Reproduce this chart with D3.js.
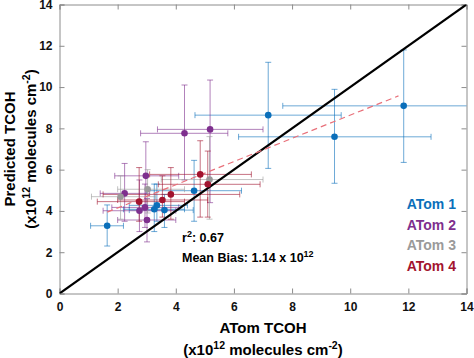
<!DOCTYPE html>
<html lang="en">
<head>
<meta charset="UTF-8">
<title>Predicted vs ATom TCOH</title>
<script src="https://d3js.org/d3.v7.min.js"></script>
<style>
    body { margin: 0; background: #ffffff; }
    svg { display: block; font-family: 'Liberation Sans', Arial, Helvetica, sans-serif; }
    .tick text { font-size: 12px; font-weight: bold; fill: #111; }
</style>
</head>
<body>
<svg id="chart" width="474" height="358"></svg>
<script>
// each row: [x, y, xLow, xHigh, yLow, yHigh]  (x10^12 molecules cm^-2)
const atom1 = [
    [1.64, 3.28, 1.07, 2.2, 2.3, 4.29],
    [3.26, 4.08, 2.2, 4.3, 3.0, 5.3],
    [3.35, 4.27, 2.4, 4.4, 3.5, 5.3],
    [3.61, 4.04, 2.4, 4.6, 3.2, 4.8],
    [4.63, 4.98, 3.0, 6.26, 3.5, 6.45],
    [7.18, 8.64, 4.66, 9.69, 6.06, 11.2],
    [9.46, 7.59, 6.16, 12.78, 5.34, 9.89],
    [11.84, 9.09, 7.68, 16, 6.35, 11.8]
];
const atom2 = [
    [2.24, 4.85, 1.4, 3.1, 3.5, 6.3],
    [2.97, 5.70, 1.9, 4.1, 4.1, 7.35],
    [2.75, 4.01, 1.5, 4.0, 3.0, 5.5],
    [2.94, 4.17, 1.8, 4.1, 3.2, 5.3],
    [3.01, 3.56, 2.0, 4.0, 2.5, 4.6],
    [4.30, 7.76, 2.79, 5.79, 5.5, 10.1],
    [5.18, 7.95, 3.37, 7.0, 4.4, 10.34]
];
const atom3 = [
    [2.10, 4.69, 1.1, 3.3, 3.6, 5.7],
    [3.03, 5.05, 2.0, 4.3, 3.9, 6.0],
    [5.16, 5.52, 3.5, 7.0, 3.6, 7.6]
];
const atom4 = [
    [2.74, 4.45, 1.3, 4.3, 3.5, 6.1],
    [3.54, 4.53, 2.0, 5.1, 3.7, 5.7],
    [3.83, 4.80, 1.5, 6.2, 3.6, 6.1],
    [4.84, 5.77, 3.1, 6.6, 3.7, 7.4],
    [5.10, 5.29, 3.4, 6.9, 3.7, 6.9]
];
const campaigns = ["ATom 1", "ATom 2", "ATom 3", "ATom 4"];
const campaignColors = ["#0b6fba", "#7e2f8e", "#9a9a9a", "#a2142f"];
const tickValues = [0, 2, 4, 6, 8, 10, 12, 14];
// least squares fit (slope, intercept) and its x extent
const fitSlope = 0.562;
const fitIntercept = 3.02;
const fitRange = [1.64, 11.66];
const rSquared = "0.67";
const meanBias = "1.14";

const svg = d3.select("#chart");
const x = d3.scaleLinear().domain([0, 14]).range([59.5, 466.5]);
const y = d3.scaleLinear().domain([0, 14]).range([293.5, 4.5]);

svg.append("defs").append("clipPath").attr("id", "plotArea")
    .append("rect")
    .attr("x", x(0)).attr("y", y(14))
    .attr("width", x(14) - x(0)).attr("height", y(0) - y(14));

// axes with inward ticks on all four sides
const axisColor = "#8c8c8c";
const axBottom = svg.append("g").attr("transform", `translate(0,${y(0)})`)
    .call(d3.axisBottom(x).tickValues(tickValues).tickSize(-5).tickPadding(9));
const axLeft = svg.append("g").attr("transform", `translate(${x(0)},0)`)
    .call(d3.axisLeft(y).tickValues(tickValues).tickSize(-5).tickPadding(7));
const axTop = svg.append("g").attr("transform", `translate(0,${y(14)})`)
    .call(d3.axisTop(x).tickValues(tickValues).tickSize(-5).tickFormat(""));
const axRight = svg.append("g").attr("transform", `translate(${x(14)},0)`)
    .call(d3.axisRight(y).tickValues(tickValues).tickSize(-5).tickFormat(""));
[axBottom, axLeft, axTop, axRight].forEach(g => {
    g.select(".domain").attr("stroke", axisColor);
    g.selectAll(".tick line").attr("stroke", axisColor);
});
axBottom.selectAll(".tick text").attr("dy", "0.71em");

const plot = svg.append("g").attr("clip-path", "url(#plotArea)");
const cap = 3;

// error bars
[atom1, atom2, atom3, atom4].forEach((rows, i) => {
    const g = plot.append("g")
        .attr("stroke", campaignColors[i])
        .attr("stroke-opacity", 0.6)
        .attr("stroke-width", 1)
        .attr("fill", "none");
    rows.forEach(d => {
        const px = x(d[0]), py = y(d[1]);
        const path = d3.path();
        path.moveTo(x(d[2]), py); path.lineTo(x(d[3]), py);
        path.moveTo(x(d[2]), py - cap); path.lineTo(x(d[2]), py + cap);
        path.moveTo(x(d[3]), py - cap); path.lineTo(x(d[3]), py + cap);
        path.moveTo(px, y(d[4])); path.lineTo(px, y(d[5]));
        path.moveTo(px - cap, y(d[4])); path.lineTo(px + cap, y(d[4]));
        path.moveTo(px - cap, y(d[5])); path.lineTo(px + cap, y(d[5]));
        g.append("path").attr("d", path.toString());
    });
});

// 1:1 line
plot.append("line")
    .attr("x1", x(0)).attr("y1", y(0))
    .attr("x2", x(14)).attr("y2", y(14))
    .attr("stroke", "#000").attr("stroke-width", 2.2);

// fit line
plot.append("line")
    .attr("x1", x(fitRange[0])).attr("y1", y(fitSlope * fitRange[0] + fitIntercept))
    .attr("x2", x(fitRange[1])).attr("y2", y(fitSlope * fitRange[1] + fitIntercept))
    .attr("stroke", "#e8707a").attr("stroke-width", 1.2)
    .attr("stroke-dasharray", "6,4");

// markers
[atom1, atom2, atom3, atom4].forEach((rows, i) => {
    plot.append("g").selectAll("circle")
        .data(rows)
        .join("circle")
        .attr("cx", d => x(d[0]))
        .attr("cy", d => y(d[1]))
        .attr("r", 3.3)
        .attr("fill", campaignColors[i]);
});

// legend text
svg.append("g").selectAll("text")
    .data(campaigns)
    .join("text")
    .attr("x", 456)
    .attr("y", (d, i) => 209 + i * 20.6)
    .attr("text-anchor", "end")
    .attr("font-size", 14)
    .attr("font-weight", "bold")
    .attr("fill", (d, i) => campaignColors[i])
    .text(d => d);

// stats annotations
const r2 = svg.append("text").attr("x", 182).attr("y", 242)
    .attr("font-size", 12.5).attr("font-weight", "bold");
r2.append("tspan").text("r");
r2.append("tspan").attr("dy", -5).attr("font-size", 9).text("2");
r2.append("tspan").attr("dy", 5).text(": " + rSquared);

const mb = svg.append("text").attr("x", 182).attr("y", 262)
    .attr("font-size", 12.5).attr("font-weight", "bold");
mb.append("tspan").text("Mean Bias: " + meanBias + " x 10");
mb.append("tspan").attr("dy", -5).attr("font-size", 9).text("12");

// axis titles
const xTitle = svg.append("g").attr("font-size", 15).attr("font-weight", "bold")
    .attr("text-anchor", "middle");
xTitle.append("text").attr("x", 263).attr("y", 333).text("ATom TCOH");
const xUnit = xTitle.append("text").attr("x", 263).attr("y", 355);
xUnit.append("tspan").text("(x10");
xUnit.append("tspan").attr("dy", -6).attr("font-size", 10.5).text("12");
xUnit.append("tspan").attr("dy", 6).text(" molecules cm");
xUnit.append("tspan").attr("dy", -6).attr("font-size", 10.5).text("-2");
xUnit.append("tspan").attr("dy", 6).text(")");

const yTitle = svg.append("g").attr("font-size", 15).attr("font-weight", "bold")
    .attr("text-anchor", "middle")
    .attr("transform", `translate(0,${(y(0) + y(14)) / 2}) rotate(-90)`);
yTitle.append("text").attr("x", 0).attr("y", 15).text("Predicted TCOH");
const yUnit = yTitle.append("text").attr("x", 0).attr("y", 36);
yUnit.append("tspan").text("(x10");
yUnit.append("tspan").attr("dy", -6).attr("font-size", 10.5).text("12");
yUnit.append("tspan").attr("dy", 6).text(" molecules cm");
yUnit.append("tspan").attr("dy", -6).attr("font-size", 10.5).text("-2");
yUnit.append("tspan").attr("dy", 6).text(")");
</script>
</body>
</html>
